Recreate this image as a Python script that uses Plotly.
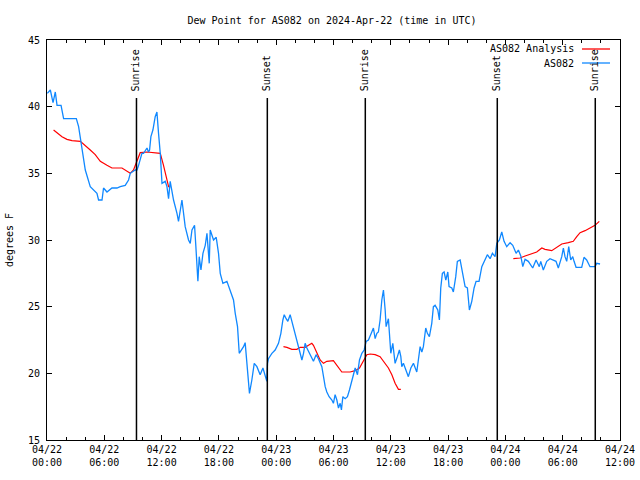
import plotly.graph_objects as go
import pandas as pd

BASE = pd.Timestamp("2024-04-22 00:00")

# Observed dew point (AS082), hours after 2024-04-22 00:00 UTC
obs_hours = [0.03, 0.35, 0.63, 0.87, 1.05, 1.47, 1.74, 3.07, 3.31, 3.66, 4.01, 4.53, 4.88, 5.23, 5.40, 5.76,
             5.92, 6.28, 6.80, 7.33, 7.67, 8.19, 8.54, 8.72, 9.24, 9.42, 9.59, 9.76, 9.94, 10.11, 10.29, 10.47,
             10.63, 10.74, 10.88, 11.09, 11.33, 11.51, 11.68, 11.86, 12.04, 12.38, 12.56, 12.73, 12.90, 13.08,
             13.25, 13.61, 13.77, 14.13, 14.30, 14.47, 14.82, 15.00, 15.18, 15.45, 15.59, 15.70, 15.80, 15.94,
             16.12, 16.33, 16.57, 16.75, 16.91, 16.99, 17.09, 17.27, 17.44, 17.72, 17.96, 18.14, 18.42, 18.84,
             19.18, 19.53, 19.71, 19.95, 20.13, 20.58, 20.75, 20.93, 21.10, 21.20, 21.45, 21.70, 21.98, 22.32,
             22.61, 22.85, 23.02, 23.09, 23.19, 23.55, 23.89, 24.24, 24.49, 24.70, 24.84, 25.04, 25.22, 25.46,
             25.70, 25.91, 26.16, 26.44, 26.69, 26.86, 27.03, 27.21, 27.48, 27.73, 27.90, 28.18, 28.42, 28.78,
             28.95, 29.13, 29.30, 29.54, 29.83, 29.99, 30.17, 30.35, 30.52, 30.70, 30.83, 30.98, 31.22, 31.46,
             31.67, 31.92, 32.09, 32.27, 32.51, 32.72, 32.97, 33.21, 33.42, 33.66, 34.01, 34.18, 34.36, 34.54,
             34.70, 34.88, 35.06, 35.23, 35.41, 35.51, 35.75, 35.86, 36.00, 36.21, 36.45, 36.69, 36.90, 37.05,
             37.15, 37.32, 37.60, 37.84, 38.10, 38.37, 38.72, 38.89, 39.07, 39.25, 39.41, 39.66, 39.83, 40.04,
             40.29, 40.46, 40.64, 40.92, 41.09, 41.23, 41.40, 41.58, 41.76, 41.97, 42.10, 42.39, 42.55, 42.80,
             42.97, 43.26, 43.54, 43.78, 44.02, 44.23, 44.48, 44.72, 44.93, 45.24, 45.53, 45.87, 46.11, 46.40,
             46.64, 46.92, 47.10, 47.37, 47.62, 47.86, 48.14, 48.49, 48.77, 49.12, 49.36, 49.61, 49.82, 50.06,
             50.40, 50.86, 51.21, 51.55, 51.70, 51.97, 52.33, 52.67, 53.02, 53.30, 53.54, 53.90, 54.07, 54.24,
             54.42, 54.63, 54.84, 55.05, 55.19, 55.40, 55.99, 56.23, 56.51, 56.86, 57.38, 57.56, 57.91]
obs_dewpt = [41.0, 41.25, 40.3, 41.1, 40.1, 40.1, 39.1, 39.1, 38.5, 37.0, 35.25, 34.0, 33.75, 33.5, 33.0, 33.0,
             33.9, 33.6, 33.9, 33.9, 34.0, 34.1, 34.5, 35.0, 35.25, 35.25, 35.6, 36.0, 36.5, 36.5, 36.75, 36.9,
             36.6, 36.75, 37.75, 38.25, 39.25, 39.6, 38.0, 36.5, 34.25, 34.4, 34.0, 33.1, 34.4, 33.75,
             33.0, 32.0, 31.4, 33.0, 32.0, 31.0, 30.0, 29.75, 30.75, 31.1, 29.5, 27.5, 26.9, 28.75,
             27.75, 29.0, 29.6, 30.5, 29.0, 28.25, 30.75, 30.25, 30.0, 30.2, 29.0, 27.5, 26.75, 26.9,
             26.25, 25.5, 24.5, 23.5, 21.5, 22.0, 22.3, 20.6, 19.0, 18.5, 19.5, 20.75, 20.5, 19.9,
             20.4, 19.75, 19.4, 20.75, 21.1, 21.5, 21.75, 22.25, 23.0, 24.0, 24.4, 24.1, 23.9, 24.4,
             23.75, 23.0, 22.5, 21.75, 21.0, 21.5, 22.25, 21.9, 21.5, 21.25, 20.9, 21.4, 21.1, 20.5,
             19.75, 19.0, 18.6, 18.25, 18.0, 17.75, 18.4, 18.0, 17.4, 17.75, 17.25, 18.25, 18.1, 18.25,
             18.75, 19.4, 19.9, 20.4, 19.9, 21.0, 21.5, 21.75, 22.4, 22.5, 23.1, 23.4, 22.6, 23.0,
             23.1, 24.0, 25.5, 26.25, 24.75, 23.5, 24.1, 22.75, 21.5, 22.25, 20.75, 21.25, 21.75, 21.25,
             20.5, 20.75, 20.25, 19.75, 20.4, 20.75, 20.1, 21.25, 22.0, 21.6, 22.0, 23.4, 23.0, 22.75,
             23.75, 25.0, 25.1, 24.75, 24.0, 26.4, 27.5, 27.6, 27.0, 27.6, 26.5, 26.4, 26.1, 27.25,
             28.4, 28.5, 27.25, 26.5, 26.4, 24.75, 25.4, 26.4, 26.9, 26.9, 28.0, 28.5, 28.9, 28.6,
             29.0, 28.75, 29.75, 30.0, 30.6, 29.9, 29.5, 29.8, 29.6, 29.0, 29.25, 28.8, 28.0, 28.55,
             28.4, 27.9, 28.5, 28.0, 28.4, 27.75, 28.4, 28.6, 28.5, 28.4, 27.9, 28.75, 29.4, 28.75,
             28.4, 29.5, 28.5, 28.75, 28.4, 27.95, 27.95, 28.7, 28.5, 28.0, 28.0, 28.25, 28.2]

# Analysis dew point (AS082 Analysis); None marks gaps
ana_hours = [0.69, 1.05, 1.57, 2.09, 2.62, 3.49, 4.01, 4.53, 5.05, 5.58, 6.28, 6.80, 7.85, 8.30, 8.72, 9.06,
             9.42, 9.76, 10.47, 11.33, 11.86, 12.20, 12.49, 12.73, 12.90, 18.0,
             24.76, 25.12, 25.64, 26.16, 26.51, 27.03, 27.38, 27.73, 27.90, 28.26, 28.60, 28.95, 29.30, 29.99,
             30.41, 30.87, 31.74, 32.27, 32.72, 33.13, 33.49, 33.84, 34.36, 34.88, 35.41, 35.75, 36.11, 36.45,
             36.80, 37.05, 43.0,
             48.83, 49.53, 50.06, 50.76, 51.28, 51.81, 52.15, 52.85, 53.38, 53.90, 54.59, 55.11, 55.47, 55.82,
             56.34, 56.86, 57.38, 57.83]
ana_dewpt = [38.25, 38.05, 37.75, 37.55, 37.45, 37.4, 37.1, 36.75, 36.4, 35.9, 35.6, 35.4, 35.4, 35.2, 35.0, 35.25,
             36.0, 36.55, 36.6, 36.55, 36.5, 35.6, 34.75, 34.0, 33.95, None,
             22.0, 21.95, 21.8, 21.8, 21.95, 21.95, 22.1, 22.25, 22.1, 21.5, 21.0, 20.75, 20.9, 20.95,
             20.5, 20.1, 20.1, 20.2, 20.4, 20.9, 21.4, 21.45, 21.4, 21.25, 20.75, 20.4, 19.9, 19.25,
             18.8, 18.8, None,
             28.6, 28.65, 28.8, 28.95, 29.1, 29.4, 29.3, 29.2, 29.45, 29.7, 29.8, 29.9, 30.25, 30.55,
             30.7, 30.9, 31.1, 31.4]

event_hours = [9.37, 23.07, 33.33, 47.15, 57.41]
event_labels = ["Sunrise", "Sunset", "Sunrise", "Sunset", "Sunrise"]

tick_hours = [0, 6, 12, 18, 24, 30, 36, 42, 48, 54, 60]
tick_labels = ["04/22<br>00:00", "04/22<br>06:00", "04/22<br>12:00", "04/22<br>18:00",
               "04/23<br>00:00", "04/23<br>06:00", "04/23<br>12:00", "04/23<br>18:00",
               "04/24<br>00:00", "04/24<br>06:00", "04/24<br>12:00"]

series_names = ["AS082 Analysis", "AS082"]
series_colors = ["#ff0000", "#1088ff"]


def to_time(hours):
    return [None if h is None else BASE + pd.Timedelta(hours=h) for h in hours]


FONT = "DejaVu Sans Mono"
fig = go.Figure()
fig.add_trace(go.Scatter(x=to_time(ana_hours), y=ana_dewpt, mode="lines", name=series_names[0],
                         line=dict(color=series_colors[0], width=1.2), connectgaps=False))
fig.add_trace(go.Scatter(x=to_time(obs_hours), y=obs_dewpt, mode="lines", name=series_names[1],
                         line=dict(color=series_colors[1], width=1.3)))

L, R, T, B = 47, 20, 40, 40
PW, PH = 640 - L - R, 480 - T - B


def px(xp):
    return (xp - L) / PW


def py(yp):
    return (480 - B - yp) / PH


shapes = []
annotations = []
for h, lab in zip(event_hours, event_labels):
    t = BASE + pd.Timedelta(hours=h)
    shapes.append(dict(type="line", xref="x", yref="paper", x0=t, x1=t, y0=0, y1=py(98),
                       line=dict(color="black", width=1.5)))
    annotations.append(dict(x=t, xref="x", y=py(93), yref="paper", text=lab, textangle=-90,
                            showarrow=False, xanchor="center", yanchor="bottom",
                            font=dict(family=FONT, size=10, color="black")))

# legend (text left of sample line, as in the reference)
for i, (name, col) in enumerate(zip(series_names, series_colors)):
    yy = 49 + 14 * i
    annotations.append(dict(x=px(576), xref="paper", y=py(yy), yref="paper", text=name, showarrow=False,
                            xanchor="right", yanchor="middle", font=dict(family=FONT, size=10, color="black")))
    shapes.append(dict(type="line", xref="paper", yref="paper", x0=px(582), x1=px(610), y0=py(yy), y1=py(yy),
                       line=dict(color=col, width=1.3)))

fig.update_layout(
    width=640, height=480,
    margin=dict(l=L, r=R, t=T, b=B, autoexpand=False),
    paper_bgcolor="white", plot_bgcolor="white",
    showlegend=False,
    font=dict(family=FONT, size=10, color="black"),
    title=dict(text="Dew Point for AS082 on 2024-Apr-22 (time in UTC)", xref="container", x=332 / 640,
               xanchor="center", y=1 - 20 / 480, yanchor="middle",
               font=dict(family=FONT, size=10, color="black"), automargin=False),
    shapes=shapes, annotations=annotations,
)
fig.update_xaxes(
    type="date", range=[BASE, BASE + pd.Timedelta(hours=60)], automargin=False,
    tickvals=to_time(tick_hours), ticktext=tick_labels,
    showgrid=False, zeroline=False, showline=True, linecolor="black", linewidth=1, mirror="ticks",
    ticks="inside", ticklen=5, tickcolor="black",
    minor=dict(dtick=2 * 3600 * 1000, tick0=BASE, ticks="inside", ticklen=3, tickcolor="black", showgrid=False),
    tickfont=dict(family=FONT, size=10),
)
fig.update_yaxes(
    range=[15, 45], dtick=5, tick0=15, automargin=False,
    showgrid=False, zeroline=False, showline=True, linecolor="black", linewidth=1, mirror="ticks",
    ticks="inside", ticklen=5, tickcolor="black",
    title=dict(text="degrees F", font=dict(family=FONT, size=10), standoff=12),
    tickfont=dict(family=FONT, size=10), ticklabelstandoff=4,
)

fig.write_html("out.html", config={"displayModeBar": False},
               post_script="document.body.style.margin='0px';")
